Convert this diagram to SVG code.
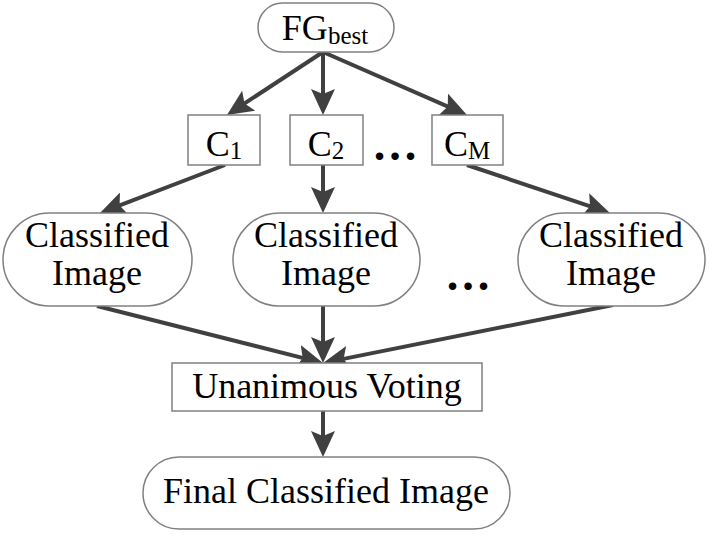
<svg xmlns="http://www.w3.org/2000/svg" width="709" height="534" viewBox="0 0 709 534">
<style>
.node{fill:#fff;stroke:#808080;stroke-width:1.5}
.t{font-family:"Liberation Serif","Times New Roman",serif;font-size:36px;fill:#000;text-anchor:middle}
.sub{font-size:25px}
.dots{font-family:"Liberation Serif",serif;font-size:46px;font-weight:bold;fill:#000;text-anchor:middle}
.c{stroke:#404040;stroke-width:4;fill:none;marker-end:url(#ah)}
</style>
<defs>
<marker id="ah" markerUnits="userSpaceOnUse" markerWidth="26" markerHeight="24" viewBox="0 0 26 24" refX="14" refY="12" orient="auto">
<path d="M0,0 L26,12 L0,24 L5,12 z" fill="#404040"/>
</marker>
</defs>
<rect width="709" height="534" fill="#fff"/>
<g id="connectors">
<line class="c" x1="323" y1="52" x2="237" y2="108.4"/>
<line class="c" x1="323" y1="52" x2="323" y2="103"/>
<line class="c" x1="323" y1="52" x2="456" y2="110.2"/>
<line class="c" x1="225" y1="165" x2="111.2" y2="208.7"/>
<line class="c" x1="323" y1="165" x2="323" y2="201"/>
<line class="c" x1="467" y1="165" x2="598.6" y2="209.2"/>
<line class="c" x1="97" y1="306" x2="311.4" y2="360.1"/>
<line class="c" x1="323" y1="306" x2="323" y2="351"/>
<line class="c" x1="613" y1="305" x2="334.8" y2="360.6"/>
<line class="c" x1="323" y1="411" x2="323" y2="445"/>
</g>
<g id="fgbest">
<rect class="node" x="258" y="3" width="136" height="49" rx="24.5"/>
<text class="t" x="325" y="40">FG<tspan class="sub" dy="4">best</tspan></text>
</g>
<g id="c1">
<rect class="node" x="188" y="115" width="72" height="50"/>
<text class="t" x="224" y="156">C<tspan class="sub" dy="3">1</tspan></text>
</g>
<g id="c2">
<rect class="node" x="290" y="115" width="73" height="50"/>
<text class="t" x="326" y="156">C<tspan class="sub" dy="3">2</tspan></text>
</g>
<g id="cm">
<rect class="node" x="432" y="115" width="71" height="50"/>
<text class="t" x="467" y="156">C<tspan class="sub" dy="3">M</tspan></text>
</g>
<text class="dots" x="395" y="160">…</text>
<g id="ci1">
<rect class="node" x="3" y="213" width="189" height="93" rx="46.5"/>
<text class="t" x="97" y="247">Classified</text>
<text class="t" x="97" y="285">Image</text>
</g>
<g id="ci2">
<rect class="node" x="233" y="213" width="187" height="93" rx="46.5"/>
<text class="t" x="326" y="247">Classified</text>
<text class="t" x="326" y="285">Image</text>
</g>
<text class="dots" x="468" y="290">…</text>
<g id="ci3">
<rect class="node" x="518" y="213" width="187" height="93" rx="46.5"/>
<text class="t" x="611" y="247">Classified</text>
<text class="t" x="611" y="285">Image</text>
</g>
<g id="voting">
<rect class="node" x="172" y="363" width="310" height="48"/>
<text class="t" x="327" y="398">Unanimous Voting</text>
</g>
<g id="final">
<rect class="node" x="143" y="457" width="367" height="72" rx="36"/>
<text class="t" x="326" y="503">Final Classified Image</text>
</g>
</svg>
